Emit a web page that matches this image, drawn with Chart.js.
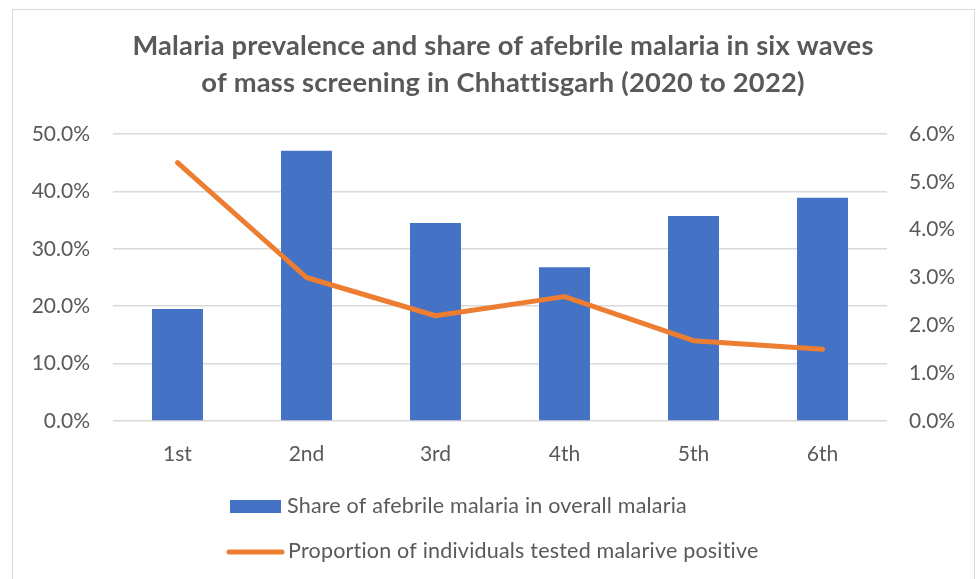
<!DOCTYPE html>
<html>
<head>
<meta charset="utf-8">
<script src="https://cdn.jsdelivr.net/npm/chart.js@4.4.1/dist/chart.umd.min.js"></script>
<style>
  html, body { margin: 0; padding: 0; background: #ffffff; }
  #wrap { position: relative; width: 978px; height: 579px; overflow: hidden; }
  #frame { position: absolute; left: 12px; top: 9px; width: 963px; height: 600px; border: 1px solid #d9d9d9; box-sizing: border-box; }
  canvas { position: absolute; left: 0; top: 0; }
</style>
</head>
<body>
<div id="wrap">
  <div id="frame"></div>
  <canvas id="c" width="978" height="579"></canvas>
</div>
<script>
const titleLines = [
  "Malaria prevalence and share of afebrile malaria in six waves",
  "of mass screening in Chhattisgarh (2020 to 2022)"
];
const waves = ["1st", "2nd", "3rd", "4th", "5th", "6th"];
const afebrileShare = [19.5, 47.1, 34.5, 26.8, 35.7, 38.9];
const positiveProportion = [5.4, 3.0, 2.2, 2.6, 1.68, 1.5];
const barLabel = "Share of afebrile malaria in overall malaria";
const lineLabel = "Proportion of individuals tested malarive positive";
const leftTicks = [0, 10, 20, 30, 40, 50];
const rightTicks = [0, 1, 2, 3, 4, 5, 6];

const TEXT = "#595959";
const BLUE = "#4472C4";
const ORANGE = "#ED7D31";

const customDraw = {
  id: "customDraw",
  afterDraw(chart) {
    const ctx = chart.ctx;
    ctx.save();
    if ("letterSpacing" in ctx) ctx.letterSpacing = "0.2px";
    ctx.fillStyle = TEXT;
    ctx.textAlign = "center";
    ctx.textBaseline = "middle";
    ctx.font = "bold 27.3px Lato";
    ctx.fillText(titleLines[0], 503, 46);
    ctx.fillText(titleLines[1], 503, 83);

    // legend
    const dsBar = chart.data.datasets.find(d => d.type === "bar");
    const dsLine = chart.data.datasets.find(d => d.type === "line");
    ctx.textAlign = "left";
    ctx.font = "21.5px Lato";
    // bar item
    ctx.fillStyle = dsBar.backgroundColor;
    ctx.fillRect(230, 500, 51, 13);
    ctx.fillStyle = TEXT;
    ctx.fillText(dsBar.label, 287, 506);
    // line item
    ctx.strokeStyle = dsLine.borderColor;
    ctx.lineWidth = 5;
    ctx.lineCap = "round";
    ctx.beginPath();
    ctx.moveTo(229, 552);
    ctx.lineTo(282, 552);
    ctx.stroke();
    ctx.fillStyle = TEXT;
    ctx.fillText(dsLine.label, 288, 551);
    ctx.restore();
  }
};

new Chart(document.getElementById("c"), {
  data: {
    labels: waves,
    datasets: [
      {
        type: "line",
        label: lineLabel,
        data: positiveProportion,
        yAxisID: "yR",
        borderColor: ORANGE,
        backgroundColor: ORANGE,
        borderWidth: 5,
        pointRadius: 0,
        borderJoinStyle: "round",
        borderCapStyle: "round",
        tension: 0,
        order: 0
      },
      {
        type: "bar",
        label: barLabel,
        data: afebrileShare,
        yAxisID: "yL",
        backgroundColor: BLUE,
        borderWidth: 0,
        barPercentage: 0.395,
        categoryPercentage: 1.0,
        order: 1
      }
    ]
  },
  options: {
    responsive: false,
    animation: false,
    devicePixelRatio: 1,
    layout: { padding: { top: 134, bottom: 108, left: 0, right: 0 } },
    plugins: {
      legend: { display: false },
      title: { display: false },
      tooltip: { enabled: false }
    },
    scales: {
      x: {
        grid: { display: false, drawTicks: false },
        border: { display: false },
        ticks: { color: TEXT, font: { family: "Lato", size: 21 }, padding: 21 },
        afterFit(s) { s.height = 50; }
      },
      yL: {
        position: "left",
        min: 0, max: 50,
        afterBuildTicks(s) { s.ticks = leftTicks.map(v => ({ value: v })); },
        grid: { color: "#d9d9d9", lineWidth: 1.5, drawTicks: false },
        border: { display: false },
        ticks: {
          color: TEXT, font: { family: "Lato", size: 21 }, padding: 23,
          callback: v => v.toFixed(1) + "%"
        },
        afterFit(s) { s.width = 113; }
      },
      yR: {
        position: "right",
        min: 0, max: 6,
        afterBuildTicks(s) { s.ticks = rightTicks.map(v => ({ value: v })); },
        grid: { display: false, drawTicks: false },
        border: { display: false },
        ticks: {
          color: TEXT, font: { family: "Lato", size: 21 }, padding: 22,
          callback: v => v.toFixed(1) + "%"
        },
        afterFit(s) { s.width = 91; }
      }
    }
  },
  plugins: [customDraw]
});
</script>
</body>
</html>
